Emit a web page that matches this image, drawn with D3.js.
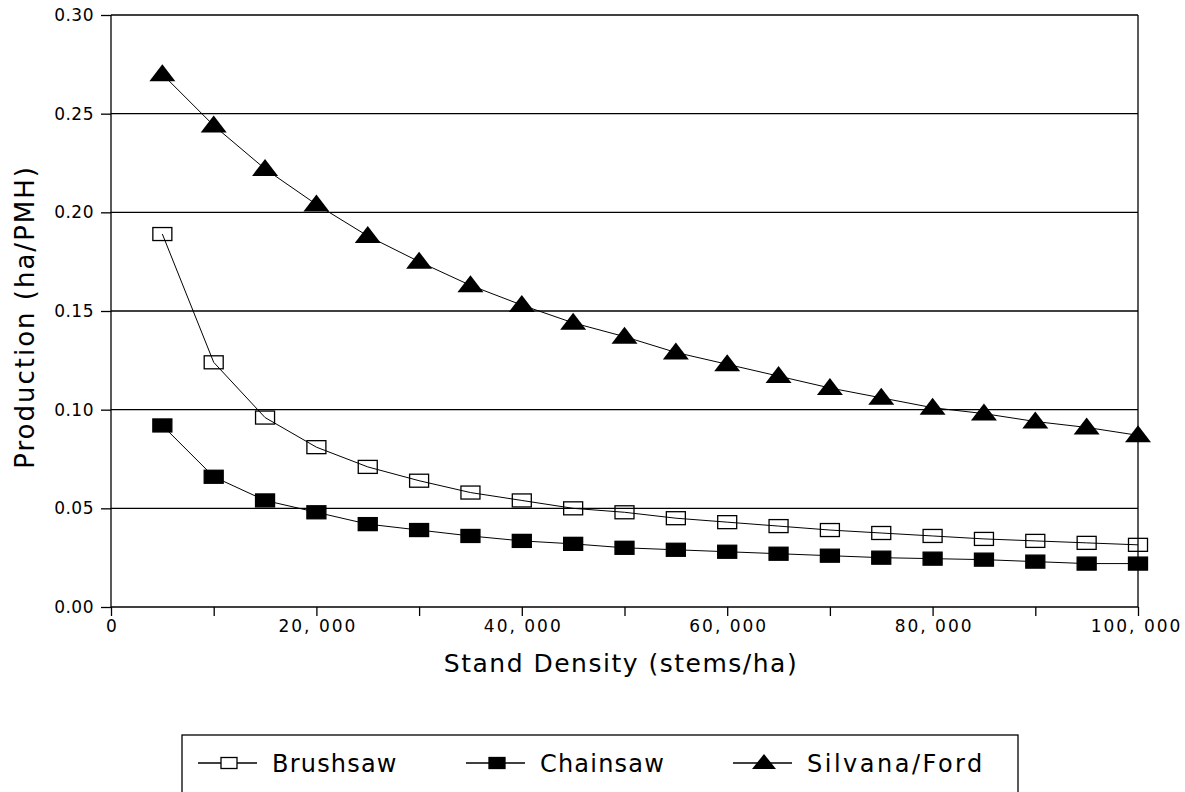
<!DOCTYPE html>
<html>
<head>
<meta charset="utf-8">
<script src="https://cdn.jsdelivr.net/npm/d3@7/dist/d3.min.js"></script>
<style>
  body { margin: 0; background: #fff; }
  svg { font-family: "DejaVu Sans", sans-serif; }
</style>
</head>
<body>
<div class="chart"></div>
<script>
// stand density in stems/ha
const densities = [5000, 10000, 15000, 20000, 25000, 30000, 35000, 40000, 45000, 50000,
  55000, 60000, 65000, 70000, 75000, 80000, 85000, 90000, 95000, 100000];

// production in ha/PMH
const brushsaw = [0.189, 0.124, 0.096, 0.081, 0.071, 0.064, 0.058, 0.054, 0.050, 0.048,
  0.045, 0.043, 0.041, 0.039, 0.0375, 0.036, 0.0345, 0.0335, 0.0325, 0.0315];
const chainsaw = [0.092, 0.066, 0.054, 0.048, 0.042, 0.039, 0.036, 0.0335, 0.032, 0.030,
  0.029, 0.028, 0.027, 0.026, 0.025, 0.0245, 0.024, 0.023, 0.022, 0.022];
const silvana = [0.270, 0.244, 0.222, 0.204, 0.188, 0.175, 0.163, 0.153, 0.144, 0.137,
  0.129, 0.123, 0.117, 0.111, 0.106, 0.101, 0.098, 0.094, 0.091, 0.087];

const seriesNames = ['Brushsaw', 'Chainsaw', 'Silvana/Ford'];
const xTickLabels = [0, 20000, 40000, 60000, 80000, 100000];
const yTickLabels = [0, 0.05, 0.10, 0.15, 0.20, 0.25, 0.30];

const width = 1185;
const height = 792;
const margin = { top: 15, right: 47, bottom: 185, left: 111 };

const svg = d3.select('.chart')
  .append('svg')
  .attr('width', width)
  .attr('height', height);

const x = d3.scaleLinear()
  .domain([0, 100000])
  .range([margin.left, width - margin.right]);

const y = d3.scaleLinear()
  .domain([0, 0.30])
  .range([height - margin.bottom, margin.top]);

const fmtX = d => d3.format(',')(d).replace(',', ', ');

// gridlines
svg.append('g')
  .selectAll('line')
  .data(yTickLabels)
  .enter()
    .append('line')
    .attr('x1', x(0))
    .attr('x2', x(100000))
    .attr('y1', d => y(d))
    .attr('y2', d => y(d))
    .attr('stroke', '#000')
    .attr('stroke-width', 1.3);

// frame sides
svg.append('line')
  .attr('x1', x(0)).attr('x2', x(0))
  .attr('y1', y(0)).attr('y2', y(0.30))
  .attr('stroke', '#000').attr('stroke-width', 1.3);
svg.append('line')
  .attr('x1', x(100000)).attr('x2', x(100000))
  .attr('y1', y(0)).attr('y2', y(0.30))
  .attr('stroke', '#000').attr('stroke-width', 1.3);

// x axis: minor ticks every 10,000, labels every 20,000
const xAxis = svg.append('g')
  .attr('transform', `translate(0,${y(0)})`)
  .call(d3.axisBottom(x)
    .tickValues(d3.range(0, 100001, 10000))
    .tickSize(9)
    .tickPadding(4)
    .tickFormat(d => xTickLabels.includes(d) ? fmtX(d) : ''));
xAxis.attr('font-family', null).attr('font-size', null);
xAxis.select('.domain').remove();
xAxis.selectAll('.tick line').attr('stroke', '#000').attr('stroke-width', 1.3);
xAxis.selectAll('.tick text')
  .style('font-size', '17px')
  .attr('letter-spacing', 2)
  .attr('dx', d => d === 100000 ? -2 : 1)
  .attr('fill', '#000');

const yAxis = svg.append('g')
  .attr('transform', `translate(${x(0)},0)`)
  .call(d3.axisLeft(y)
    .tickValues(yTickLabels)
    .tickSize(10)
    .tickPadding(7)
    .tickFormat(d3.format('.2f')));
yAxis.attr('font-family', null).attr('font-size', null);
yAxis.select('.domain').remove();
yAxis.selectAll('.tick line').attr('stroke', '#000').attr('stroke-width', 1.3);
yAxis.selectAll('.tick text')
  .style('font-size', '17px')
  .attr('letter-spacing', 0.5)
  .attr('fill', '#000');

// axis titles
svg.append('text')
  .attr('x', 621)
  .attr('y', 672)
  .attr('text-anchor', 'middle')
  .attr('letter-spacing', 1.5)
  .style('font-size', '25px')
  .text('Stand Density (stems/ha)');

svg.append('text')
  .attr('transform', `translate(34,${y(0.147)}) rotate(-90)`)
  .attr('text-anchor', 'middle')
  .attr('letter-spacing', 2)
  .style('font-size', '26px')
  .text('Production (ha/PMH)');

// marker drawing
const drawMarker = (sel, kind) => {
  if (kind === 2) {
    sel.append('path')
      .attr('d', 'M0,-10 L13,7 L-13,7 Z')
      .attr('fill', '#000');
  } else {
    sel.append('rect')
      .attr('x', -9.5).attr('y', -6.5)
      .attr('width', 19).attr('height', 13)
      .attr('fill', kind === 1 ? '#000' : '#fff')
      .attr('fill-opacity', kind === 1 ? 1 : 0)
      .attr('stroke', '#000')
      .attr('stroke-width', 1.3);
  }
};

const line = d3.line()
  .x((d, i) => x(densities[i]))
  .y(d => y(d));

[brushsaw, chainsaw, silvana].forEach((values, k) => {
  svg.append('path')
    .datum(values)
    .attr('d', line)
    .attr('fill', 'none')
    .attr('stroke', '#000')
    .attr('stroke-width', 1);

  svg.append('g')
    .selectAll('g')
    .data(values)
    .enter()
      .append('g')
      .attr('transform', (d, i) => `translate(${x(densities[i])},${y(d)})`)
      .each(function () { drawMarker(d3.select(this), k); });
});

// legend
const legend = svg.append('g');
legend.append('rect')
  .attr('x', 182).attr('y', 735)
  .attr('width', 836).attr('height', 70)
  .attr('fill', 'none')
  .attr('stroke', '#000')
  .attr('stroke-width', 1.3);

const legendX = [198, 466, 733];
seriesNames.forEach((name, k) => {
  const g = legend.append('g').attr('transform', `translate(${legendX[k]},763)`);
  g.append('line')
    .attr('x1', 0).attr('x2', 59)
    .attr('stroke', '#000').attr('stroke-width', 1.3);
  const m = g.append('g').attr('transform', 'translate(31,0)');
  if (k === 2) {
    m.append('path').attr('d', 'M0,-9 L12,6 L-12,6 Z').attr('fill', '#000');
  } else {
    m.append('rect')
      .attr('x', -8).attr('y', -5.5)
      .attr('width', 16).attr('height', 11)
      .attr('fill', k === 1 ? '#000' : '#fff')
      .attr('stroke', '#000').attr('stroke-width', 1.3);
  }
  g.append('text')
    .attr('x', 74)
    .attr('y', 9)
    .attr('letter-spacing', k === 2 ? 2.5 : 1.2)
    .style('font-size', '24px')
    .text(name);
});
</script>
</body>
</html>
